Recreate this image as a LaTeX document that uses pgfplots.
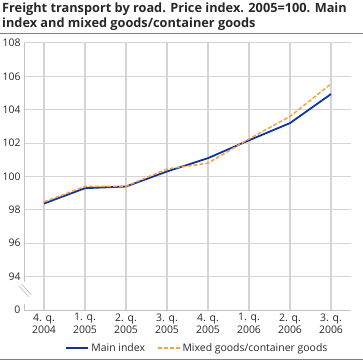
\documentclass[border=0pt]{standalone}
\usepackage{pgfplots}
\pgfplotsset{compat=1.18}
\usepackage{fontspec}
\setmainfont{Open Sans}
\definecolor{mainblue}{RGB}{12,52,160}
\definecolor{mixorange}{RGB}{248,160,70}
\definecolor{gridgray}{RGB}{212,212,212}
\definecolor{txt}{RGB}{40,40,40}
\begin{document}
\begin{tikzpicture}
\path[use as bounding box] (-24bp,-53bp) rectangle (339bp,310bp);
\begin{axis}[
  at={(0bp,0bp)}, anchor=south west,
  scale only axis, width=327bp, height=267bp,
  xmin=-0.487805, xmax=7.487805, ymin=92, ymax=108,
  xtick={0,1,2,3,4,5,6,7},
  xticklabels={{4. q.\\2004},{1. q.\\2005},{2. q.\\2005},{3. q.\\2005},{4. q.\\2005},{1. q.\\2006},{2. q.\\2006},{3. q.\\2006}},
  xticklabel style={align=center, font=\fontsize{10.5}{12.5}\selectfont, text=txt},
  ytick={92,94,96,98,100,102,104,106,108},
  yticklabels={0,94,96,98,100,102,104,106,108},
  yticklabel style={font=\fontsize{10.5}{12}\selectfont, text=txt},
  /pgf/number format/assume math mode=true,
  tick style={draw=none},
  ymajorgrids,
  major grid style={draw=gridgray, line width=1pt},
  axis line style={draw=none},
  legend columns=2,
  legend style={at={(0.5306,-0.142)}, anchor=center, draw=none, fill=none,
    font=\fontsize{10.5}{12}\selectfont, text=txt,
    /tikz/every even column/.append style={column sep=10bp}},
  legend image code/.code={\draw[#1] (0bp,0bp) -- (22bp,0bp);},
  clip=false,
]
\pgfplotsinvokeforeach{0,1,2,3,4,5,6,7}{
  \draw[gridgray, line width=2bp] (axis cs:#1,92) -- (axis cs:#1,108);
}
\draw[gridgray!80!gray, line width=0.8pt] (rel axis cs:0,1) -- (rel axis cs:0,0) -- (rel axis cs:1,0);
\addplot[mainblue, line width=1.8pt] coordinates {
(0,98.38) (1,99.3) (2,99.4) (3,100.3) (4,101.1) (5,102.17) (6,103.2) (7,104.94)};
\addlegendentry{Main index}
\addplot[mixorange, line width=1.5pt, dash pattern=on 4bp off 2bp] coordinates {
(0,98.48) (1,99.4) (2,99.42) (3,100.45) (4,100.8) (5,102.25) (6,103.6) (7,105.55)};
\addlegendentry{Mixed goods/container goods}
\end{axis}
% axis break
\fill[white] (-1.5bp,6bp) rectangle (1.5bp,28bp);
\draw[gridgray!80!gray, line width=0.7pt] (-5bp,24bp) -- (5bp,13bp);
\draw[gridgray!80!gray, line width=0.7pt] (-2.5bp,26bp) -- (7.5bp,15bp);
% title
\node[anchor=north west, align=left, inner sep=0pt, text=txt, font=\bfseries\fontsize{12.8}{15}\selectfont] at (-22bp,307bp) {Freight transport by road. Price index. 2005=100. Main\\index and mixed goods/container goods};
\draw[gray, line width=0.8pt] (-24bp,277bp) -- (339bp,277bp);
\draw[gray, line width=0.8pt] (-24bp,-49bp) -- (339bp,-49bp);
\end{tikzpicture}
\end{document}
